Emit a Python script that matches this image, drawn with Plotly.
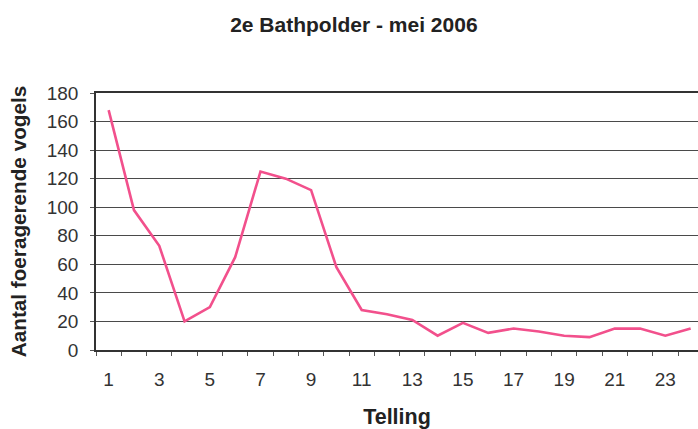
import plotly.graph_objects as go

telling = list(range(1, 25))
vogels = [168, 98, 73, 20, 30, 65, 125, 120, 112, 58, 28, 25,
          21, 10, 19, 12, 15, 13, 10, 9, 15, 15, 10, 15]
x_labels = [str(v) for v in range(1, 24, 2)]
y_ticks = list(range(0, 181, 20))

fig = go.Figure()
fig.add_trace(go.Scatter(x=telling, y=vogels, mode="lines",
                         line=dict(color="#F2508C", width=2.6),
                         showlegend=False))

font = "Liberation Sans, Arial, sans-serif"
fig.update_layout(
    width=698, height=429,
    margin=dict(l=96, r=0, t=93, b=79, autoexpand=False),
    paper_bgcolor="white", plot_bgcolor="white",
    title=dict(text="<b>2e Bathpolder - mei 2006</b>", x=0.507, xanchor="center",
               y=0.942, yanchor="middle",
               font=dict(family=font, size=21, color="#222")),
    font=dict(family=font, color="#333"),
)
fig.update_xaxes(
    range=[0.5, 24.29], tickmode="array",
    tickvals=[int(v) for v in x_labels], ticktext=x_labels,
    ticks="", showgrid=False,
    showline=True, linecolor="#333", linewidth=1.5, mirror=True,
    tickfont=dict(size=19, color="#333"),
    ticklabelstandoff=11,
    minor=dict(tickmode="array", tickvals=[k + 0.5 for k in range(0, 25)],
               ticks="outside", ticklen=4, tickcolor="#555", showgrid=False),
    title=dict(text="<b>Telling</b>", font=dict(size=21.5, color="#222"), standoff=20),
    zeroline=False,
)
fig.update_yaxes(
    range=[0, 180], tickmode="array", tickvals=y_ticks,
    ticks="outside", ticklen=4, tickcolor="#555",
    showgrid=True, gridcolor="#4a4a4a", gridwidth=1.2,
    showline=True, linecolor="#333", linewidth=1.5, mirror=True,
    tickfont=dict(size=19, color="#333"),
    ticklabelstandoff=8,
    title=dict(text="<b>Aantal foeragerende vogels</b>", font=dict(size=20.7, color="#222"), standoff=15),
    zeroline=False,
)
fig.write_html("out.html", config={"displayModeBar": False},
               post_script="document.body.style.margin='0';document.body.style.overflow='hidden';")
